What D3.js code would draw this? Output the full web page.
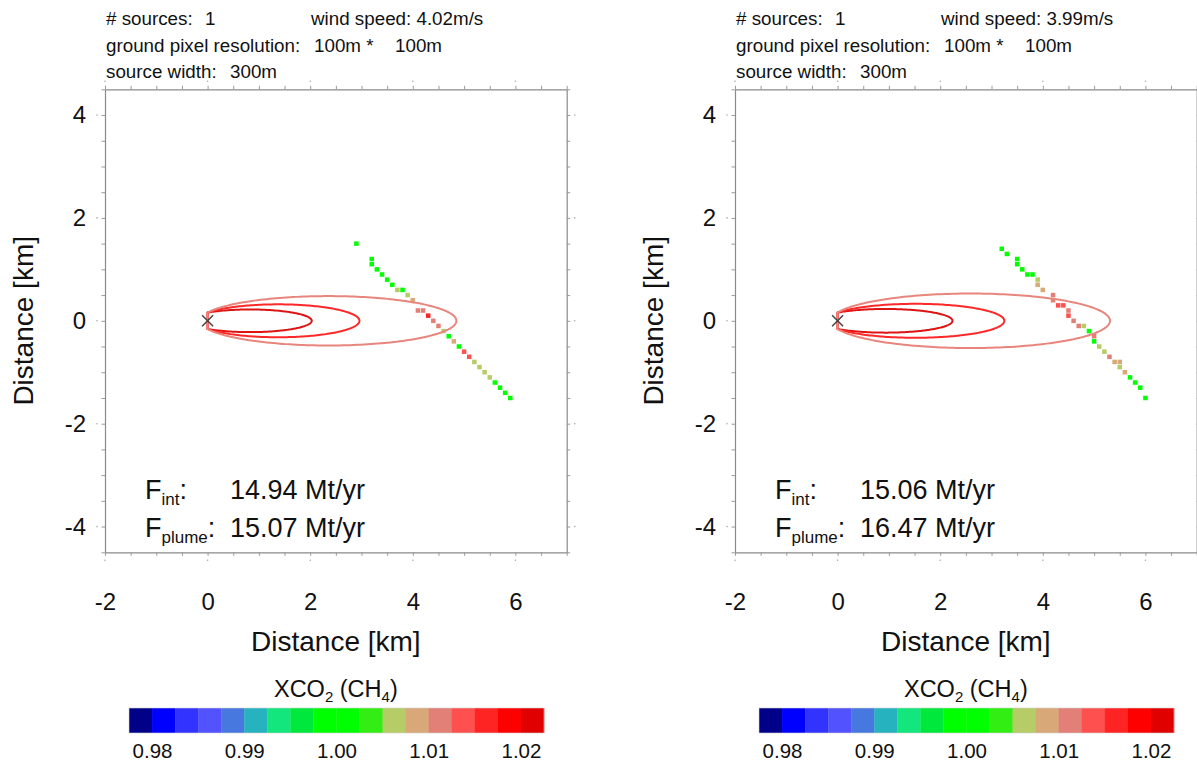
<!DOCTYPE html>
<html>
<head>
<meta charset="utf-8">
<script src="https://cdn.jsdelivr.net/npm/d3@7/dist/d3.min.js"></script>
<style>
  body { margin: 0; background: #fff; }
  svg text { font-family: "Liberation Sans", Arial, Helvetica, sans-serif; fill: #111; }
</style>
</head>
<body>
<svg id="chart" width="1197" height="762"></svg>
<script>
// ---- scene parameters for the two retrievals ----
const nSources    = [1, 1];
const windSpeed   = [4.02, 3.99];          // m/s
const pixelRes    = [100, 100];            // m
const sourceWidth = [300, 300];            // m
const fluxInt     = [14.94, 15.06];        // Mt/yr
const fluxPlume   = [15.07, 16.47];        // Mt/yr

// observed ground pixels: [x km, y km, XCO2 ratio]
const pixelsLeft = [
  [2.9, 1.5, 1.001], [3.2, 1.2, 1.001], [3.2, 1.1, 1.001], [3.3, 1.0, 1.001],
  [3.4, 0.9, 1.001], [3.5, 0.8, 1.001], [3.6, 0.7, 1.001], [3.7, 0.6, 1.006],
  [3.8, 0.6, 1.001], [3.9, 0.5, 1.006], [4.0, 0.4, 1.008], [4.1, 0.2, 1.011],
  [4.2, 0.2, 1.011], [4.3, 0.1, 1.016], [4.4, 0.0, 1.011], [4.5, -0.1, 1.011],
  [4.6, -0.2, 1.007], [4.7, -0.3, 1.001], [4.8, -0.4, 1.008], [4.9, -0.5, 1.001],
  [5.0, -0.6, 1.013], [5.1, -0.7, 1.013], [5.2, -0.8, 1.006], [5.3, -0.9, 1.006],
  [5.4, -1.0, 1.006], [5.5, -1.1, 1.006], [5.6, -1.2, 1.001], [5.7, -1.3, 1.001],
  [5.8, -1.4, 1.001], [5.9, -1.5, 1.001]
];
const pixelsRight = [
  [3.2, 1.4, 1.001], [3.3, 1.3, 1.001], [3.5, 1.2, 1.001], [3.5, 1.1, 1.001],
  [3.6, 1.0, 1.001], [3.7, 0.9, 1.001], [3.8, 0.9, 1.001], [3.9, 0.8, 1.006],
  [3.9, 0.7, 1.008], [4.0, 0.6, 1.008], [4.2, 0.5, 1.011], [4.2, 0.4, 1.011],
  [4.3, 0.3, 1.013], [4.4, 0.3, 1.013], [4.5, 0.2, 1.011], [4.5, 0.1, 1.013],
  [4.6, 0.0, 1.011], [4.7, -0.1, 1.011], [4.8, -0.1, 1.006], [4.9, -0.2, 1.001],
  [5.0, -0.3, 1.011], [5.0, -0.4, 1.001], [5.1, -0.5, 1.006], [5.2, -0.6, 1.006],
  [5.3, -0.7, 1.011], [5.4, -0.8, 1.008], [5.5, -0.8, 1.008], [5.5, -0.9, 1.006],
  [5.6, -1.0, 1.008], [5.7, -1.1, 1.001], [5.8, -1.2, 1.001], [5.9, -1.3, 1.001],
  [6.0, -1.5, 1.001]
];

// modelled plume contours: [downwind length km, max half-width km]
const contoursLeft  = [[2.03, 0.22], [2.96, 0.32], [4.85, 0.48]];
const contoursRight = [[2.24, 0.23], [3.25, 0.33], [5.31, 0.53]];

// colour table of the XCO2 ratio
const colorBreaks = [0.98, 0.9825, 0.985, 0.9875, 0.99, 0.9925, 0.995, 0.9975, 1.0,
                     1.0025, 1.005, 1.0075, 1.01, 1.0125, 1.015, 1.0175, 1.02];
const colorTable  = ["#000088", "#0000ff", "#3333ff", "#5252ff", "#4678e0", "#27b2bf",
                     "#14e67e", "#00e83c", "#00ff00", "#00ff00", "#33ee12", "#b6cc66",
                     "#d8a878", "#e27f76", "#ff5050", "#ff2424", "#ff0000", "#e00000"];
const colorDomain = [0.9775, 1.0225];
const colorTicks  = [0.98, 0.99, 1.00, 1.01, 1.02];

const xTicks = [-2, 0, 2, 4, 6];
const yTicks = [-4, -2, 0, 2, 4];

// ---- drawing ----
const svg = d3.select("#chart");
const color = d3.scaleThreshold(colorBreaks, colorTable);
const contourStroke = ["#dc1414", "#ff2828", "#e8867e"];
const plainInt = d => String(d);   // hyphen-minus, as in the source figures

const panels = [
  { left: 105, pixels: pixelsLeft,  contours: contoursLeft },
  { left: 735, pixels: pixelsRight, contours: contoursRight }
];

const plotW = 461.7, plotTop = 89.3, plotBottom = 552.3;

panels.forEach((p, i) => {
  const g = svg.append("g");
  const L = p.left, R = L + plotW;
  const x = d3.scaleLinear([-2, 7], [L, R]);
  const y = d3.scaleLinear([-4.5, 4.5], [plotBottom, plotTop]);

  // header lines
  const hdr = g.append("g").attr("font-size", 18.8);
  hdr.append("text").attr("x", L + 1).attr("y", 25).text("# sources:");
  hdr.append("text").attr("x", L + 100).attr("y", 25).text(nSources[i]);
  hdr.append("text").attr("x", L + 206).attr("y", 25).text("wind speed: " + windSpeed[i].toFixed(2) + "m/s");
  hdr.append("text").attr("x", L + 1).attr("y", 51.5).text("ground pixel resolution:");
  hdr.append("text").attr("x", L + 209).attr("y", 51.5).text(pixelRes[i] + "m *");
  hdr.append("text").attr("x", L + 290).attr("y", 51.5).text(pixelRes[i] + "m");
  hdr.append("text").attr("x", L + 1).attr("y", 77.5).text("source width:");
  hdr.append("text").attr("x", L + 125).attr("y", 77.5).text(sourceWidth[i] + "m");

  // clipping
  const clipId = "clip" + i;
  svg.append("clipPath").attr("id", clipId).append("rect")
    .attr("x", L).attr("y", plotTop).attr("width", plotW).attr("height", plotBottom - plotTop);
  const plot = g.append("g").attr("clip-path", `url(#${clipId})`);

  // ground pixels
  const size = 0.088;
  plot.append("g").selectAll("rect").data(p.pixels).join("rect")
    .attr("x", d => x(d[0] - size / 2))
    .attr("y", d => y(d[1] + size / 2))
    .attr("width", x(size) - x(0))
    .attr("height", y(0) - y(size))
    .attr("fill", d => color(d[2]));

  // plume contours: ellipses clipped at the source line x = 0
  const h0 = sourceWidth[i] / 2000 + 0.01;
  const line = d3.line().x(d => x(d[0])).y(d => y(d[1]));
  p.contours.forEach((c, j) => {
    const len = c[0], b = c[1];
    const k = Math.sqrt(1 - (h0 / b) * (h0 / b));
    const a = len / (1 + k), cx = k * a;
    const t0 = Math.acos(-k);
    const pts = d3.range(0, 201).map(n => {
      const t = t0 - (2 * t0) * n / 200;
      return [cx + a * Math.cos(t), b * Math.sin(t)];
    });
    plot.append("path")
      .attr("d", line(pts) + "Z")
      .attr("fill", "none")
      .attr("stroke", contourStroke[j])
      .attr("stroke-width", 2)
      .attr("stroke-linejoin", "round");
  });

  // source marker
  const s = 5.5;
  plot.append("path")
    .attr("d", `M${x(0) - s},${y(0) - s}L${x(0) + s},${y(0) + s}M${x(0) - s},${y(0) + s}L${x(0) + s},${y(0) - s}`)
    .attr("stroke", "#444").attr("stroke-width", 1.5).attr("fill", "none");

  // frame with small outward ticks every 0.5 km
  const minor = d3.range(-2, 7.01, 0.5);
  const minorY = d3.range(-4.5, 4.51, 0.5);
  const styleAxis = sel => {
    sel.select(".domain").attr("stroke", "#8a8a8a").attr("stroke-width", 1.2);
    sel.selectAll(".tick line").attr("stroke", "#9a9a9a").attr("stroke-width", 1);
    sel.selectAll(".tick text").remove();
  };
  g.append("g").attr("transform", `translate(0,${plotBottom})`)
    .call(d3.axisBottom(x).tickValues(minor).tickSize(3.5).tickSizeOuter(0).tickFormat("")).call(styleAxis);
  g.append("g").attr("transform", `translate(0,${plotTop})`)
    .call(d3.axisTop(x).tickValues(minor).tickSize(3.5).tickSizeOuter(0).tickFormat("")).call(styleAxis);
  g.append("g").attr("transform", `translate(${L},0)`)
    .call(d3.axisLeft(y).tickValues(minorY).tickSize(3.5).tickSizeOuter(0).tickFormat("")).call(styleAxis);
  g.append("g").attr("transform", `translate(${R},0)`)
    .call(d3.axisRight(y).tickValues(minorY).tickSize(3.5).tickSizeOuter(0).tickFormat("")).call(styleAxis);

  // faint dots marking the labelled positions
  const dots = g.append("g").attr("fill", "#aaa");
  xTicks.forEach(v => {
    dots.append("circle").attr("cx", x(v)).attr("cy", plotBottom + 8).attr("r", 0.8);
    dots.append("circle").attr("cx", x(v)).attr("cy", plotTop - 8).attr("r", 0.8);
  });
  yTicks.forEach(v => {
    dots.append("circle").attr("cx", L - 8).attr("cy", y(v)).attr("r", 0.8);
    dots.append("circle").attr("cx", R + 8).attr("cy", y(v)).attr("r", 0.8);
  });

  // tick labels
  const xl = g.append("g").attr("transform", `translate(0,${plotBottom})`)
    .call(d3.axisBottom(x).tickValues(xTicks).tickSize(0).tickPadding(0).tickFormat(plainInt));
  xl.select(".domain").remove();
  xl.selectAll("text").attr("font-size", 24).attr("font-family", null)
    .attr("y", 58).attr("dy", 0).attr("fill", "#111");
  const yl = g.append("g").attr("transform", `translate(${L},0)`)
    .call(d3.axisLeft(y).tickValues(yTicks).tickSize(0).tickPadding(19).tickFormat(plainInt));
  yl.select(".domain").remove();
  yl.selectAll("text").attr("font-size", 24).attr("font-family", null).attr("fill", "#111");

  // axis titles
  g.append("text").attr("x", (L + R) / 2).attr("y", 651).attr("text-anchor", "middle")
    .attr("font-size", 28).text("Distance [km]");
  g.append("text").attr("transform", `translate(${L - 72},${y(0)}) rotate(-90)`)
    .attr("text-anchor", "middle").attr("font-size", 28).text("Distance [km]");

  // flux estimates
  const fl = g.append("g").attr("font-size", 27);
  [["int", fluxInt[i], 499], ["plume", fluxPlume[i], 537]].forEach(([sub, val, by]) => {
    const t = fl.append("text").attr("x", L + 40).attr("y", by);
    t.append("tspan").text("F");
    t.append("tspan").attr("font-size", 17).attr("dy", 6).text(sub);
    t.append("tspan").attr("dy", -6).text(":");
    fl.append("text").attr("x", L + 125).attr("y", by).text(val.toFixed(2) + " Mt/yr");
  });

  // colour bar
  const cb = d3.scaleLinear(colorDomain, [L + 24, L + 439]);
  const cbTop = 708, cbH = 25;
  const edges = [colorDomain[0], ...colorBreaks, colorDomain[1]];
  const bar = g.append("g");
  bar.selectAll("rect").data(colorTable).join("rect")
    .attr("x", (d, k) => cb(edges[k]))
    .attr("y", cbTop)
    .attr("width", (d, k) => cb(edges[k + 1]) - cb(edges[k]) + 0.3)
    .attr("height", cbH)
    .attr("fill", d => d);
  bar.append("rect").attr("x", cb.range()[0]).attr("y", cbTop)
    .attr("width", cb.range()[1] - cb.range()[0]).attr("height", cbH)
    .attr("fill", "none").attr("stroke", "#d0d0d0").attr("stroke-width", 0.6);
  const cbl = g.append("g").attr("transform", `translate(0,${cbTop + cbH})`)
    .call(d3.axisBottom(cb).tickValues(colorTicks).tickSize(0).tickPadding(0).tickFormat(d3.format(".2f")));
  cbl.select(".domain").remove();
  cbl.selectAll("text").attr("font-size", 20.5).attr("font-family", null)
    .attr("y", 25).attr("dy", 0).attr("fill", "#111");

  const ct = g.append("text").attr("x", (L + R) / 2).attr("y", 697)
    .attr("text-anchor", "middle").attr("font-size", 23.5);
  ct.append("tspan").text("XCO");
  ct.append("tspan").attr("font-size", 15).attr("dy", 5).text("2");
  ct.append("tspan").attr("dy", -5).text(" (CH");
  ct.append("tspan").attr("font-size", 15).attr("dy", 5).text("4");
  ct.append("tspan").attr("dy", -5).text(")");
});
</script>
</body>
</html>
